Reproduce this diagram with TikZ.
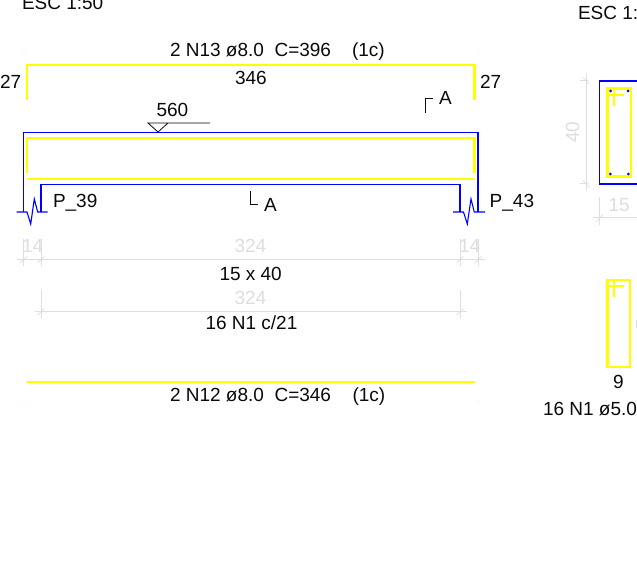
\documentclass[tikz,border=0pt]{standalone}
\usepackage{fontspec}
\setmainfont{Liberation Sans}
\definecolor{rebar}{RGB}{255,255,0}
\definecolor{conc}{RGB}{0,0,255}
\definecolor{dimc}{RGB}{222,222,222}
\definecolor{ink}{RGB}{10,10,10}
\tikzset{
  lbl/.style={anchor=base west,inner sep=0pt,outer sep=0pt,text=ink,font=\fontsize{19}{20}\selectfont},
  dimlbl/.style={lbl,text=dimc},
  bar/.style={draw=rebar,line width=2.4pt,line cap=butt,line join=miter},
  beam/.style={draw=conc,line width=1.1pt,line join=miter},
  dimline/.style={draw=dimc,line width=1pt},
  inkline/.style={draw=ink,line width=0.7pt}
}
\begin{document}
\begin{tikzpicture}[x=1pt,y=-1pt]
\clip (0,0) rectangle (637,585);
\fill[white] (0,0) rectangle (637,585);

% corner dots
\foreach \p in {(24,51),(24,402),(478,51),(478,402)} \fill[dimc] \p circle (0.6);

% top bar
\draw[bar] (27,100) -- (27,65) -- (474.5,65) -- (474.5,100);
% beam outline
\draw[beam] (16.5,212) -- (27,212) -- (30.7,224) -- (34.3,199) -- (37.7,212) -- (47.7,212);
\draw[beam] (453,212) -- (463.5,212) -- (467.3,224) -- (471,199) -- (474.3,212) -- (485,212);
\draw[beam] (23.5,212) -- (23.5,132.5) -- (478,132.5) -- (478,212);
\draw[beam] (41,212) -- (41,184.5) -- (460,184.5) -- (460,212);
% stirrup-region bars
\draw[bar] (27,173) -- (27,138) -- (474.5,138) -- (474.5,173);
\draw[bar] (26.5,179) -- (475,179);
\draw[bar] (26.5,381.7) -- (475,381.7);

% level marker
\draw[inkline,line width=0.8pt] (210,123) -- (148,123) -- (158,132) -- (168,123);
% section marks
\draw[inkline] (433,98.5) -- (425.5,98.5) -- (425.5,113);
\draw[inkline] (250,191) -- (250,204) -- (257.5,204);

% dimension lines
\draw[dimline] (16.5,259.7) -- (485,259.7);
\foreach \x in {23.5,41,460,478} {
  \draw[dimline] (\x,239) -- (\x,266);
  \draw[dimline,line width=0.7pt] (\x-3.5,263) -- (\x+3.5,256.5);
}
\draw[dimline] (35,311.7) -- (467,311.7);
\foreach \x in {41,460} {
  \draw[dimline] (\x,290) -- (\x,318);
  \draw[dimline,line width=0.7pt] (\x-3.5,315) -- (\x+3.5,308.5);
}

% section view
\draw[dimline] (586,74) -- (586,190);
\foreach \y in {81,184} {
  \draw[dimline] (579.5,\y) -- (588,\y);
  \draw[dimline,line width=0.7pt] (583,\y-3.5) -- (589.5,\y+3.5);
}
\draw[dimline] (593,218) -- (637,218);
\draw[dimline] (599.5,197) -- (599.5,225);
\draw[dimline,line width=0.7pt] (596,221.5) -- (603,214.5);
\draw[beam] (599.3,81) rectangle (640,184);
\draw[bar] (607.5,88.7) rectangle (630.7,176.7);
\draw[bar] (607,95) -- (624,95);
\draw[bar] (614,88.7) -- (614,105.7);
\foreach \p in {(610.5,91),(628,91),(610.3,174),(628.3,174)} \fill[conc] \p circle (1.5);

% stirrup detail
\draw[bar] (607.5,280) rectangle (630,367);
\draw[bar] (607,286) -- (624,286);
\draw[bar] (614,280) -- (614,296.7);
\draw[dimline] (636.7,320) -- (636.7,328);

% labels
\node[lbl] (esca) at (22,10) {ESC 1:50};
\node[lbl] (escb) at (578,20) {ESC 1:};
\node[lbl] (topbar) at (170,57) {2 N13 ø8.0\ \ C=396};
\node[lbl] (topc) at (352,57) {(1c)};
\node[lbl] (topl) at (0,89) {27};
\node[lbl] (topr) at (480,89) {27};
\node[lbl] (topm) at (235,85) {346};
\node[lbl] (lev) at (156.5,117) {560};
\node[lbl] (seca) at (439,105) {A};
\node[lbl] (secb) at (264,211.7) {A};
\node[lbl] (pl) at (53,208) {P\_39};
\node[lbl] (pr) at (489.7,208) {P\_43};
\node[dimlbl] (dl) at (22,253) {14};
\node[dimlbl] (dr) at (459,253) {14};
\node[dimlbl] (dm) at (234.5,253) {324};
\node[lbl] (dn) at (219.5,280) {15 x 40};
\node[dimlbl] (dm2) at (234.5,305) {324};
\node[lbl] (n1) at (205.5,330) {16 N1 c/21};
\node[lbl] (botbar) at (170,401.7) {2 N12 ø8.0\ \ C=346};
\node[lbl] (botc) at (352.5,401.7) {(1c)};
\node[dimlbl,rotate=90,anchor=center] (h40) at (572.7,132) {40};
\node[dimlbl] (w15) at (608.5,212) {15};
\node[lbl] (nine) at (613,388) {9};
\node[lbl] (n1b) at (543,415) {16 N1 ø5.0};
\end{tikzpicture}
\end{document}
